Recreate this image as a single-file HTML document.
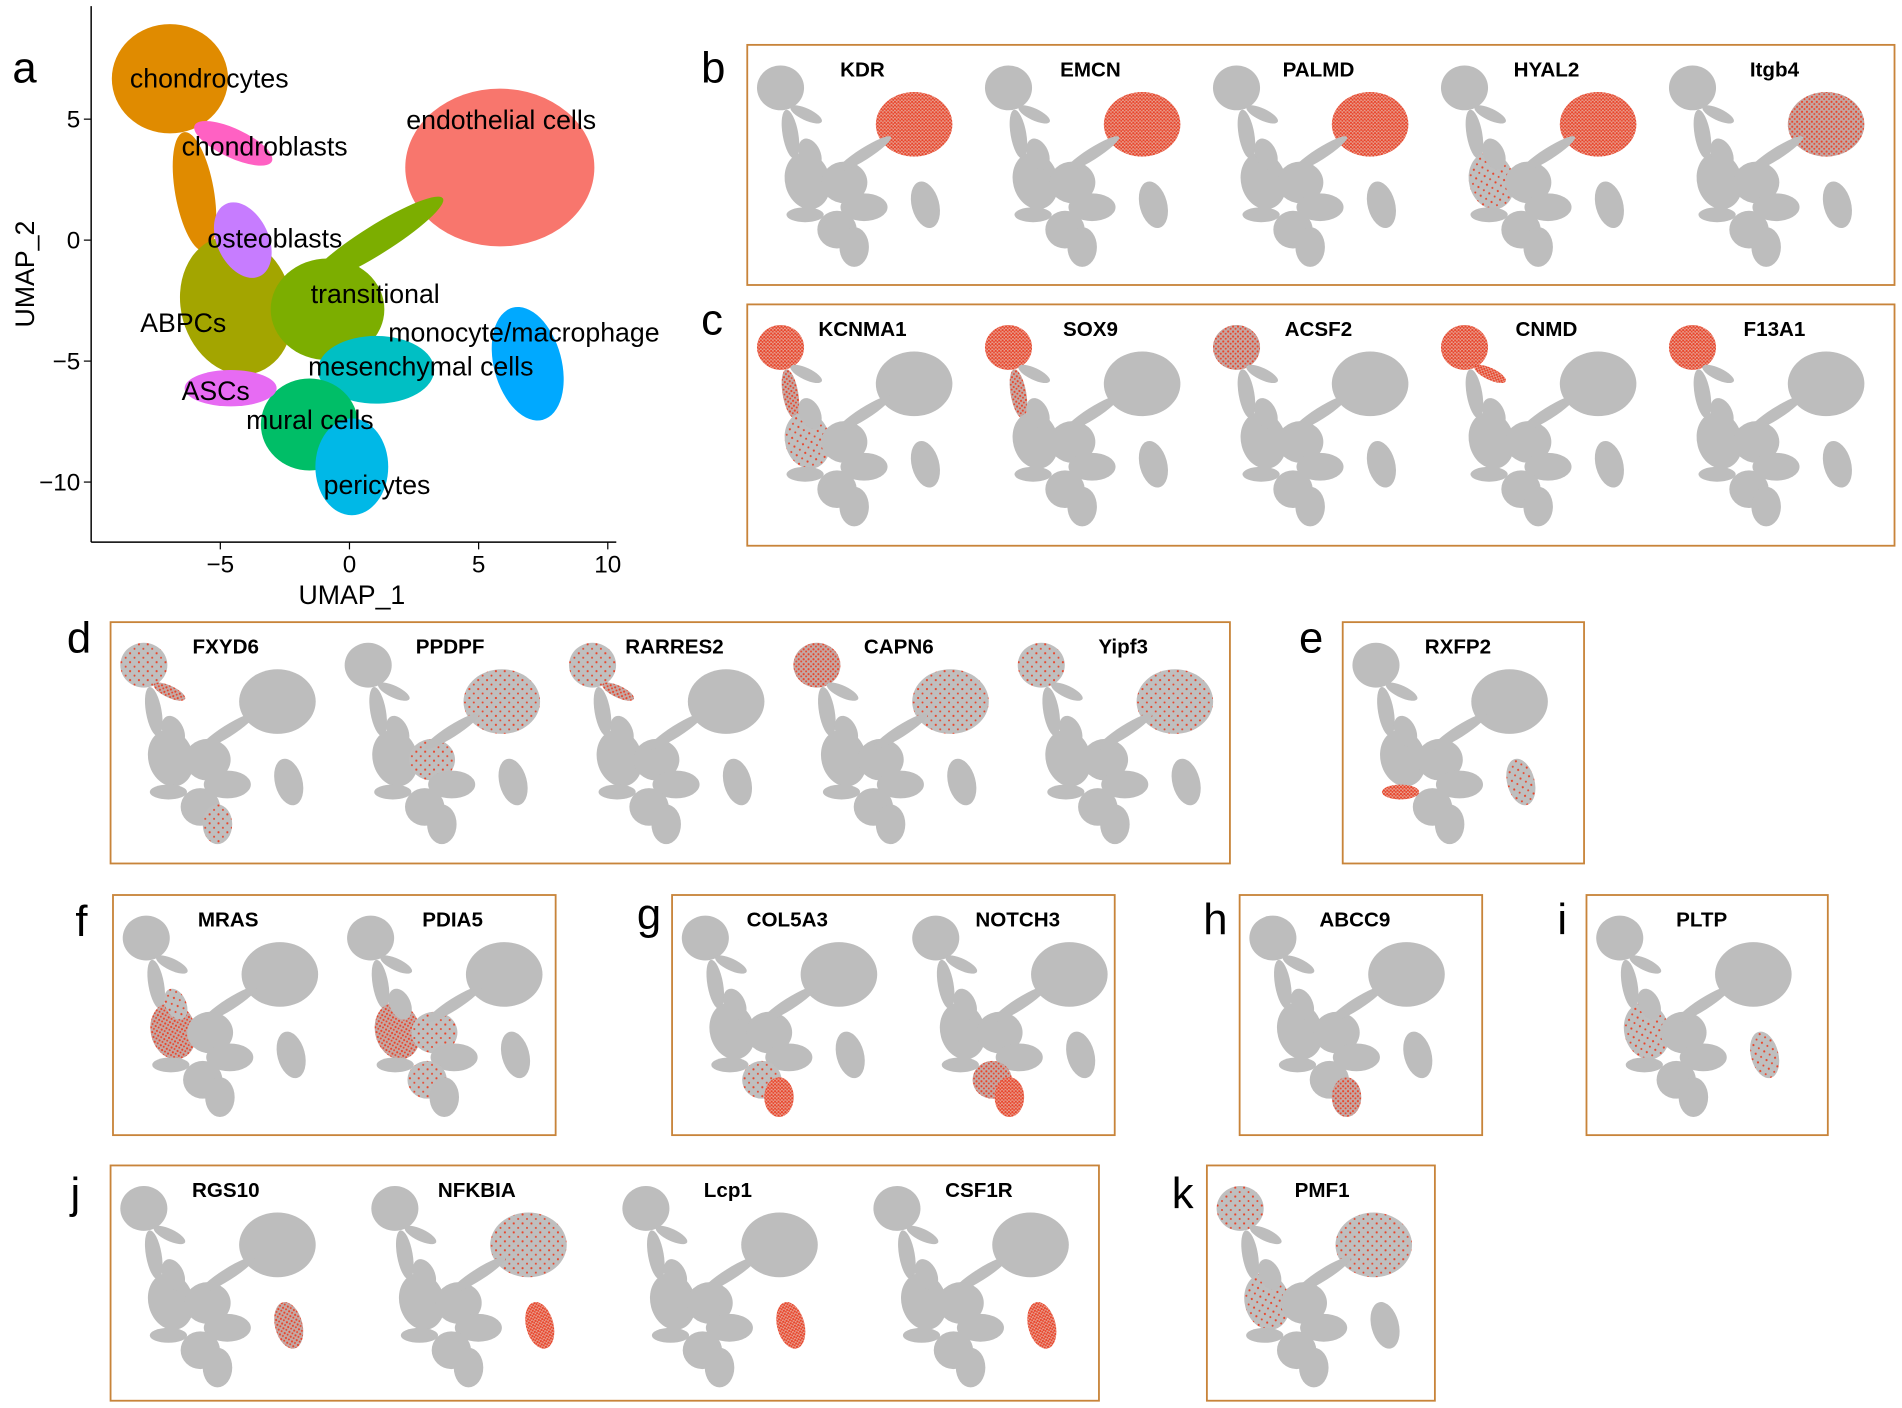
<!DOCTYPE html>
<html><head><meta charset="utf-8"><style>
html,body{margin:0;padding:0;background:#fff;}
svg{display:block;font-family:"Liberation Sans",sans-serif;}
</style></head><body>
<svg id="fig" width="1902" height="1408" viewBox="0 0 1568 1161" xmlns="http://www.w3.org/2000/svg">
<defs>
<pattern id="dense" patternUnits="userSpaceOnUse" width="7" height="7"><rect width="7" height="7" fill="#e8a090"/><circle cx="2" cy="2" r="2.2" fill="#e8442a"/><circle cx="5.5" cy="5" r="2" fill="#e8442a"/></pattern>
<pattern id="medium" patternUnits="userSpaceOnUse" width="10" height="10"><rect width="10" height="10" fill="#c4a8a4"/><circle cx="3" cy="3" r="2.2" fill="#e8442a"/><circle cx="8" cy="7.5" r="2" fill="#e8442a"/></pattern>
<pattern id="sparse" patternUnits="userSpaceOnUse" width="18" height="18"><rect width="18" height="18" fill="#bfbfbf"/><circle cx="4" cy="5" r="2.2" fill="#e8442a"/><circle cx="13" cy="14" r="2" fill="#e8442a"/></pattern>
</defs>
<g id="panel-a"></g>
<g id="minis"></g>
</svg>
<script>
const NS="http://www.w3.org/2000/svg";
// cluster data (UMAP coordinates)
const clusterNames=["endothelial","chondrocytes","chondro-tail","ABPCs","transitional","bridge","osteoblasts","chondroblasts","monocyte","mesenchymal","mural","pericytes","ASCs"];
const clusterX=[5.82,-6.95,-6.0,-4.37,-0.85,1.03,-4.13,-4.5,6.9,1.03,-1.55,0.09,-4.6];
const clusterY=[3.0,6.67,2.0,-2.7,-2.86,0.0,0.0,4.0,-5.11,-5.36,-7.62,-9.37,-6.12];
const clusterRX=[3.66,2.25,0.75,2.15,2.2,3.05,1.0,1.65,1.31,2.25,1.88,1.41,1.78];
const clusterRY=[3.26,2.26,2.5,2.9,2.1,0.6,1.65,0.6,2.4,1.4,1.9,2.0,0.75];
const clusterRot=[0,0,-10,-15,0,-32,-25,25,-15,0,0,0,0];
const clusterColors=["#F8766D","#E08B00","#E08B00","#A3A500","#7CAE00","#7CAE00","#C77CFF","#FF61C3","#00A9FF","#00BFC4","#00BE67","#00B8E7","#E76BF3"];
const labelText=["chondrocytes","chondroblasts","endothelial cells","osteoblasts","transitional","ABPCs","monocyte/macrophage","mesenchymal cells","ASCs","mural cells","pericytes"];
const labelX=[-8.5,-6.5,2.2,-5.5,-1.5,-8.1,1.5,-1.6,-6.5,-4,-1];
const labelY=[6.3,3.5,4.6,-0.3,-2.6,-3.8,-4.2,-5.6,-6.6,-7.8,-10.5];
const xTicks=[-5,0,5,10];
const yTicks=[5,0,-5,-10];
const xs=v=>288+21.3*v, ys=v=>198-19.95*v;

function mk(tag,attrs,parent,txt){const e=document.createElementNS(NS,tag);for(const k in attrs)e.setAttribute(k,attrs[k]);if(txt!==undefined)e.textContent=txt;parent.appendChild(e);return e;}

const A=document.getElementById('panel-a');
function drawClusters(parent,fillFn){
  clusterNames.forEach((n,i)=>{
    const e=mk('ellipse',{cx:xs(clusterX[i]),cy:ys(clusterY[i]),rx:clusterRX[i]*21.3,ry:clusterRY[i]*19.95,fill:fillFn(i),transform:`rotate(${clusterRot[i]} ${xs(clusterX[i])} ${ys(clusterY[i])})`},parent);
    
    
  });
}
drawClusters(A,i=>clusterColors[i]);
labelText.forEach((t,i)=>{const e=mk('text',{x:xs(labelX[i]),y:ys(labelY[i]),'font-size':22,fill:'#000'},A,t);

});
mk('line',{x1:75,y1:5,x2:75,y2:447,stroke:'#000','stroke-width':1.2},A);
mk('line',{x1:75,y1:447,x2:508,y2:447,stroke:'#000','stroke-width':1.2},A);
xTicks.forEach(v=>{mk('line',{x1:xs(v),y1:447,x2:xs(v),y2:453,stroke:'#000'},A);
const t=mk('text',{x:xs(v),y:472,'font-size':20,'text-anchor':'middle'},A,v<0?'\u2212'+(-v):v);

});
yTicks.forEach(v=>{mk('line',{x1:69,y1:ys(v),x2:75,y2:ys(v),stroke:'#000'},A);
const t=mk('text',{x:66,y:ys(v)+7,'font-size':20,'text-anchor':'end'},A,v<0?'\u2212'+(-v):v);

});
let t=mk('text',{x:290,y:498,'font-size':22,'text-anchor':'middle'},A,'UMAP_1');

t=mk('text',{x:28,y:226,'font-size':22,'text-anchor':'middle',transform:'rotate(-90 28 226)'},A,'UMAP_2');

t=mk('text',{x:10,y:68,'font-size':36},A,'a');


// feature panels
const panels=[
 {l:'b',x:616,y:37,w:946,h:198,lx:578,ly:68,sp:188,genes:['KDR','EMCN','PALMD','HYAL2','Itgb4'],hl:[{0:'dense'},{0:'dense'},{0:'dense'},{0:'dense',3:'sparse'},{0:'medium'}]},
 {l:'c',x:616,y:251,w:946,h:199,lx:578,ly:276,sp:188,genes:['KCNMA1','SOX9','ACSF2','CNMD','F13A1'],hl:[{1:'dense',3:'sparse',2:'medium'},{1:'dense',2:'medium'},{1:'medium'},{1:'dense',7:'dense'},{1:'dense'}]},
 {l:'d',x:91,y:513,w:923,h:199,lx:55,ly:538,sp:185,genes:['FXYD6','PPDPF','RARRES2','CAPN6','Yipf3'],hl:[{7:'medium',1:'sparse',11:'sparse'},{0:'sparse',4:'sparse'},{7:'medium',1:'sparse'},{1:'medium',0:'sparse'},{1:'sparse',0:'sparse'}]},
 {l:'e',x:1107,y:513,w:199,h:199,lx:1071,ly:538,sp:0,genes:['RXFP2'],hl:[{12:'dense',8:'sparse'}]},
 {l:'f',x:93,y:738,w:365,h:198,lx:62,ly:772,sp:185,genes:['MRAS','PDIA5'],hl:[{3:'medium',6:'sparse'},{3:'medium',4:'sparse',10:'sparse'}]},
 {l:'g',x:554,y:738,w:365,h:198,lx:525,ly:766,sp:190,genes:['COL5A3','NOTCH3'],hl:[{11:'dense',10:'sparse'},{11:'dense',10:'medium'}]},
 {l:'h',x:1022,y:738,w:200,h:198,lx:992,ly:770,sp:0,genes:['ABCC9'],hl:[{11:'medium'}]},
 {l:'i',x:1308,y:738,w:199,h:198,lx:1284,ly:770,sp:0,genes:['PLTP'],hl:[{3:'sparse',8:'sparse'}]},
 {l:'j',x:91,y:961,w:815,h:194,lx:58,ly:996,sp:207,genes:['RGS10','NFKBIA','Lcp1','CSF1R'],hl:[{8:'medium'},{8:'dense',0:'sparse'},{8:'dense'},{8:'dense'}]},
 {l:'k',x:995,y:961,w:188,h:194,lx:966,ly:996,sp:0,genes:['PMF1'],hl:[{3:'sparse',0:'sparse',1:'sparse'}]}
];
const M=document.getElementById('minis');
panels.forEach(p=>{
  const g=mk('g',{},M);
  
  
  const r=mk('rect',{x:p.x,y:p.y,width:p.w,height:p.h,fill:'none',stroke:'#C8843A','stroke-width':1.5},g);
  
  
  const L=mk('text',{x:p.lx,y:p.ly,'font-size':36},g,p.l);
  
  
  p.genes.forEach((gn,i)=>{
    const ox=p.x+8+i*p.sp, oy=p.y+15;
    const sub=mk('g',{transform:`translate(${ox},${oy}) scale(0.405,0.41) translate(-92,-15)`},g);
    
    
    const h=p.hl[i];
    drawClusters(sub,k=>h[k]?`url(#${h[k]})`:'#bdbdbd');
    const gt=mk('text',{x:ox+87,y:p.y+26,'font-size':17,'font-weight':'bold','text-anchor':'middle'},g,gn);
    
    
  });
});
</script>
</body></html>
